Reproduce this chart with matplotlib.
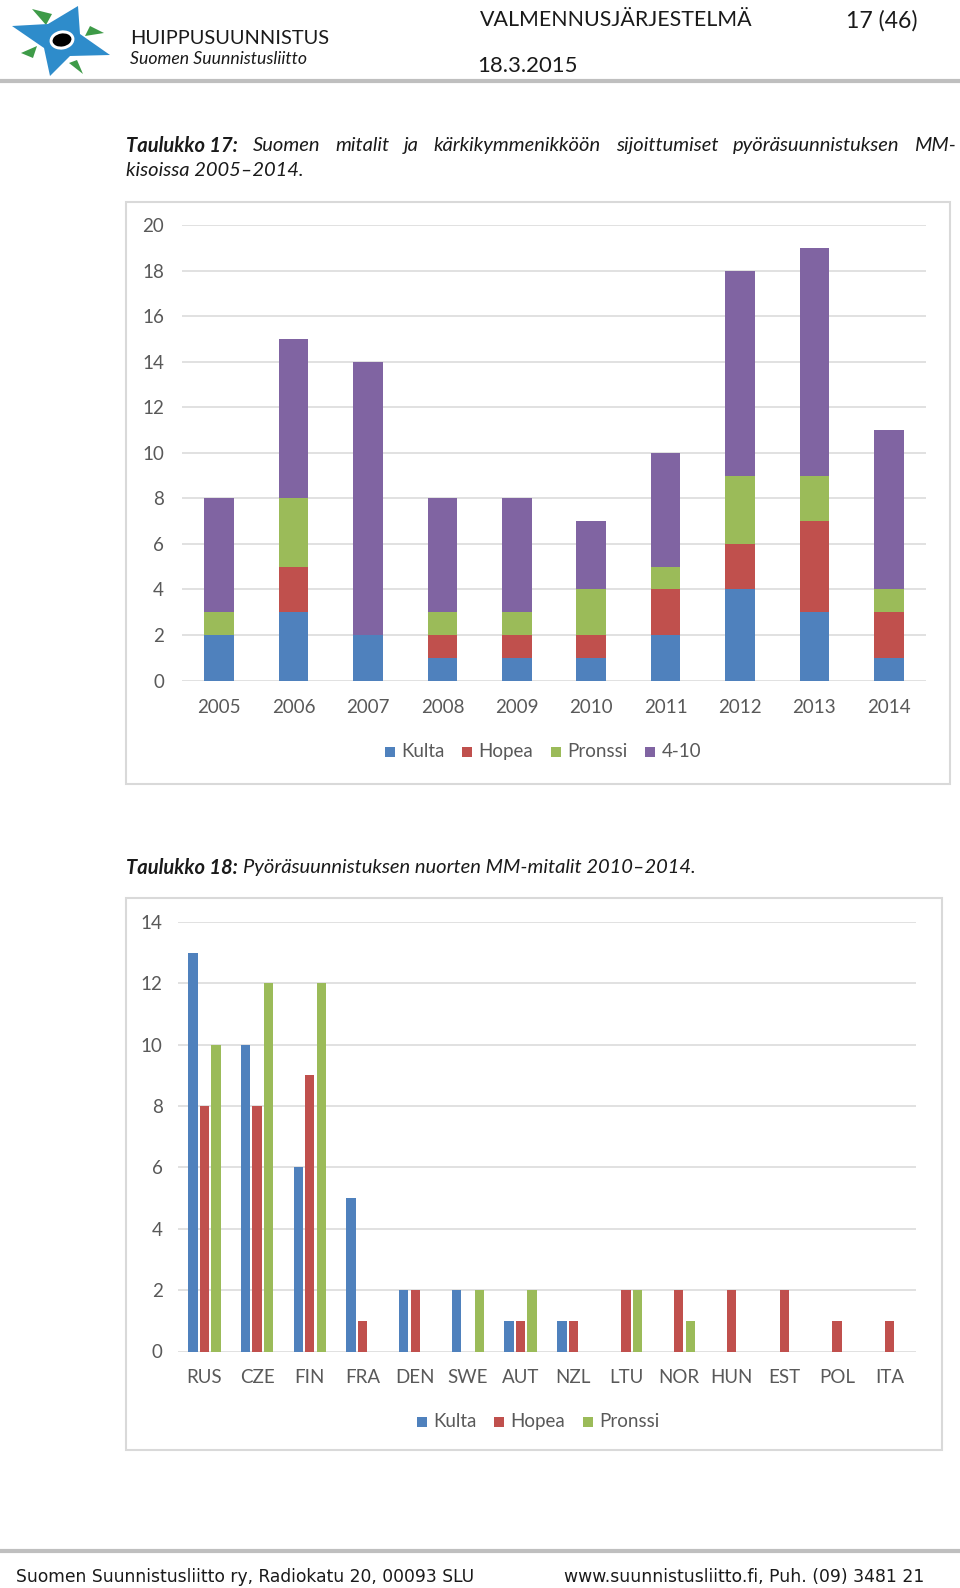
import numpy as np, matplotlib
matplotlib.use("Agg")
import matplotlib.pyplot as plt
from matplotlib.patches import Rectangle, Polygon, Ellipse

# Taulukko 17: Suomen mitalit ja top-10 sijoitukset, pyöräsuunnistuksen MM 2005-2014
years = ["2005", "2006", "2007", "2008", "2009", "2010", "2011", "2012", "2013", "2014"]
kulta = [2, 3, 2, 1, 1, 1, 2, 4, 3, 1]
hopea = [0, 2, 0, 1, 1, 1, 2, 2, 4, 2]
pronssi = [1, 3, 0, 1, 1, 2, 1, 3, 2, 1]
sij_4_10 = [5, 7, 12, 5, 5, 3, 5, 9, 10, 7]

# Taulukko 18: nuorten MM-mitalit 2010-2014
maat = ["RUS", "CZE", "FIN", "FRA", "DEN", "SWE", "AUT", "NZL", "LTU", "NOR", "HUN", "EST", "POL", "ITA"]
n_kulta = [13, 10, 6, 5, 2, 2, 1, 1, 0, 0, 0, 0, 0, 0]
n_hopea = [8, 8, 9, 1, 2, 0, 1, 1, 2, 2, 2, 2, 1, 1]
n_pronssi = [10, 12, 12, 0, 0, 2, 2, 0, 2, 1, 0, 0, 0, 0]

BLU = "#4F81BD"; RED = "#C0504D"; GRN = "#9BBB59"; PUR = "#8064A2"
GRID = "#D9D9D9"; TXT = "#595959"; INK = "#1a1a1a"
W, H = 960, 1588
DY = 2.5   # nudge text down a touch
plt.rcParams.update({"font.family": ["Lato", "DejaVu Sans"], "font.size": 13.5})

fig = plt.figure(figsize=(W / 100, H / 100), dpi=100)
R = fig.canvas.get_renderer()

# page layer in pixel coordinates
bg = fig.add_axes([0, 0, 1, 1]); bg.set_xlim(0, W); bg.set_ylim(H, 0); bg.axis("off")

def width(t):
    return t.get_window_extent(renderer=R).width

def put(x0, x1, y, s, size0=12, **kw):
    # draw text and scale its size so it spans x0..x1
    t = bg.text(x0, y + DY, s, fontsize=size0, va="center", ha="left", **kw)
    t.set_fontsize(size0 * (x1 - x0) / width(t))
    return t

# header / footer rules
bg.plot([0, W], [81, 81], color="#BFBFBF", lw=3, solid_capstyle="butt")
bg.plot([0, W], [1551, 1551], color="#BFBFBF", lw=3, solid_capstyle="butt")

# logo
for tri in [[(32, 9), (52, 14), (46, 25)], [(90, 26), (104, 33), (85, 36)],
            [(77, 60), (83, 74), (69, 63)], [(21, 53), (37, 46), (33, 58)]]:
    bg.add_patch(Polygon(tri, closed=True, color="#3E9B48", lw=0))
star = [(12, 26), (48, 24), (78, 6), (80, 34), (110, 55), (70, 56), (50, 76), (44, 48)]
bg.add_patch(Polygon(star, closed=True, color="#2E8CCB", lw=0))
bg.add_patch(Ellipse((62, 40), 25, 19, angle=-10, color="white", lw=0))
bg.add_patch(Ellipse((62, 40), 19, 13, angle=-10, color="black", lw=0))

put(130, 329, 35.5, "HUIPPUSUUNNISTUS", color=INK)
put(130, 306, 56, "Suomen Suunnistusliitto", style="italic", color=INK)
put(480, 751, 18, "VALMENNUSJÄRJESTELMÄ", color=INK)
put(846, 917, 18, "17 (46)", color=INK)
put(477, 577, 63, "18.3.2015", color=INK)

# caption 17, justified first line; size chosen so the word gaps are ~15 px
words = [("Taulukko 17:", "bold")] + [(w, "normal") for w in
         "Suomen mitalit ja kärkikymmenikköön sijoittumiset pyöräsuunnistuksen MM-".split()]
ts = [bg.text(0, 143 + DY, w, fontsize=12, style="italic", fontweight=fw, va="center", color=INK)
      for w, fw in words]
span = 956 - 126
cs = 12 * (span - 15 * (len(ts) - 1)) / sum(width(t) for t in ts)
for t in ts: t.set_fontsize(cs)
ws = [width(t) for t in ts]
gap = (span - sum(ws)) / (len(ts) - 1)
x = 126
for t, w in zip(ts, ws):
    t.set_x(x); x += w + gap
bg.text(126, 168 + DY, "kisoissa 2005–2014.", fontsize=cs, style="italic", va="center", color=INK)

# caption 18
a = bg.text(126, 865 + DY, "Taulukko 18:", fontsize=cs, style="italic", fontweight="bold",
            va="center", color=INK)
bg.text(126 + width(a) + 5, 865 + DY, "Pyöräsuunnistuksen nuorten MM-mitalit 2010–2014.",
        fontsize=cs, style="italic", va="center", color=INK)

# footer
put(16, 471, 1575, "Suomen Suunnistusliitto ry, Radiokatu 20, 00093 SLU", family="DejaVu Sans", color=INK)
put(564, 922, 1575, "www.suunnistusliitto.fi, Puh. (09) 3481 21", family="DejaVu Sans", color=INK)

# chart frames
bg.add_patch(Rectangle((126, 202), 824, 582, fill=False, ec=GRID, lw=1.5))
bg.add_patch(Rectangle((126, 898), 816, 552, fill=False, ec=GRID, lw=1.5))

def style(ax, ymax, pady, padx):
    ax.set_ylim(0, ymax); ax.set_yticks(np.arange(0, ymax + 1, 2))
    for s in ax.spines.values(): s.set_visible(False)
    ax.yaxis.grid(True, color=GRID, lw=1.1); ax.set_axisbelow(True)
    ax.tick_params(length=0, colors=TXT, labelsize=13.5)
    ax.tick_params(axis="y", pad=pady); ax.tick_params(axis="x", pad=padx)
    ax.set_facecolor("none")

def legend(items, cx, cy, sq=10, tgap=6, colgap=18):
    # Excel-style legend: square sitting on the text baseline, centred as a group on cx
    txts = [bg.text(0, cy + sq / 2, l, fontsize=13.5, color=TXT, va="baseline") for _, l in items]
    ws = [width(t) for t in txts]
    total = sum(sq + tgap + w for w in ws) + colgap * (len(items) - 1)
    x = cx - total / 2
    for (c, _), t, w in zip(items, txts, ws):
        bg.add_patch(Rectangle((x, cy - sq / 2), sq, sq, color=c, lw=0))
        t.set_x(x + sq + tgap)
        x += sq + tgap + w + colgap

# chart 1: stacked
ax1 = fig.add_axes([182 / W, 1 - 680.5 / H, 744 / W, 455.5 / H])
x1 = np.arange(len(years))
bottom = np.zeros(len(years))
for vals, col in [(kulta, BLU), (hopea, RED), (pronssi, GRN), (sij_4_10, PUR)]:
    ax1.bar(x1, vals, 0.4, bottom=bottom, color=col)
    bottom += np.array(vals)
ax1.set_xlim(-0.5, len(years) - 0.5)
ax1.set_xticks(x1); ax1.set_xticklabels(years)
style(ax1, 20, 13, 13)
legend([(BLU, "Kulta"), (RED, "Hopea"), (GRN, "Pronssi"), (PUR, "4-10")], 543, 752)

# chart 2: grouped
ax2 = fig.add_axes([178 / W, 1 - 1351.5 / H, 738 / W, 429.5 / H])
x2 = np.arange(len(maat))
for off, vals, col in [(-0.218, n_kulta, BLU), (0, n_hopea, RED), (0.218, n_pronssi, GRN)]:
    ax2.bar(x2 + off, vals, 0.177, color=col)
ax2.set_xlim(-0.5, len(maat) - 0.5)
ax2.set_xticks(x2); ax2.set_xticklabels(maat)
style(ax2, 14, 11, 12.5)
legend([(BLU, "Kulta"), (RED, "Hopea"), (GRN, "Pronssi")], 538, 1422)

fig.savefig("out.png", dpi=100, facecolor="white")
